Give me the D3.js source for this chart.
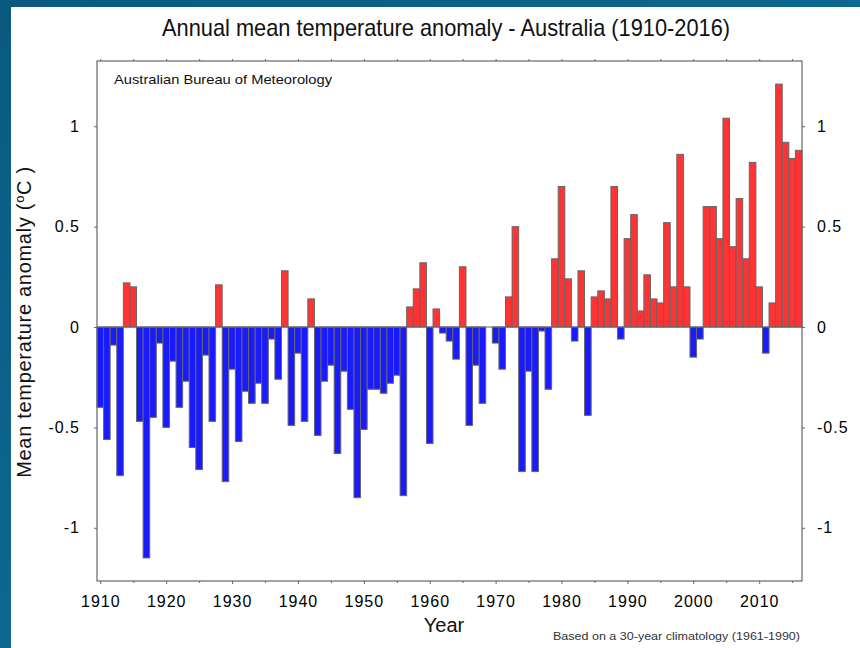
<!DOCTYPE html>
<html>
<head>
<meta charset="utf-8">
<script src="https://cdn.jsdelivr.net/npm/d3@7"></script>
<style>
  body { margin: 0; background: #0b5f86; }
  svg { display: block; font-family: "Liberation Sans", Arial, sans-serif; }
</style>
</head>
<body>
<svg width="860" height="648"></svg>
<script>
// anomaly values, one per year from 1910
const firstYear = 1910;
const anomalies = [
  -0.40, -0.56, -0.09, -0.74, 0.22, 0.20, -0.47, -1.15, -0.45, -0.08,  // 1910s
  -0.50, -0.17, -0.40, -0.27, -0.60, -0.71, -0.14, -0.47, 0.21, -0.77,  // 1920s
  -0.21, -0.57, -0.32, -0.38, -0.28, -0.38, -0.06, -0.26, 0.28, -0.49,  // 1930s
  -0.13, -0.47, 0.14, -0.54, -0.27, -0.19, -0.63, -0.22, -0.41, -0.85,  // 1940s
  -0.51, -0.31, -0.31, -0.33, -0.28, -0.24, -0.84, 0.10, 0.19, 0.32,    // 1950s
  -0.58, 0.09, -0.03, -0.07, -0.16, 0.30, -0.49, -0.19, -0.38, 0.00,    // 1960s
  -0.08, -0.21, 0.15, 0.50, -0.72, -0.22, -0.72, -0.02, -0.31, 0.34,    // 1970s
  0.70, 0.24, -0.07, 0.28, -0.44, 0.15, 0.18, 0.14, 0.70, -0.06,        // 1980s
  0.44, 0.56, 0.08, 0.26, 0.14, 0.12, 0.52, 0.20, 0.86, 0.20,           // 1990s
  -0.15, -0.06, 0.60, 0.60, 0.44, 1.04, 0.40, 0.64, 0.34, 0.82,         // 2000s
  0.20, -0.13, 0.12, 1.21, 0.92, 0.84, 0.88                             // 2010s
];
const years = d3.range(firstYear, firstYear + anomalies.length);
const xMajorTicks = d3.range(1910, 2011, 10);
const xMinorTicks = d3.range(1915, 2016, 10);
const yTicks = [-1, -0.5, 0, 0.5, 1];

const titleText = "Annual mean temperature anomaly - Australia (1910-2016)";
const sourceText = "Australian Bureau of Meteorology";
const footText = "Based on a 30-year climatology (1961-1990)";

window.onload = () => {
  const data = years.map((y, i) => ({ year: y, value: anomalies[i] }));

  const svg = d3.select("svg");

  // slide background + white panel
  const defs = svg.append("defs");
  const grad = defs.append("linearGradient").attr("id", "bg")
    .attr("x1", 0).attr("y1", 0).attr("x2", 1).attr("y2", 1);
  grad.append("stop").attr("offset", 0).attr("stop-color", "#0a5a80");
  grad.append("stop").attr("offset", 0.5).attr("stop-color", "#0e6790");
  grad.append("stop").attr("offset", 1).attr("stop-color", "#0a5a80");
  svg.append("rect").attr("width", 860).attr("height", 648).attr("fill", "url(#bg)");
  svg.append("rect").attr("x", 11).attr("y", 7).attr("width", 849).attr("height", 641).attr("fill", "#fff");

  const m = { left: 97, right: 802, top: 61, bottom: 581 };

  const x = d3.scaleLinear().domain([1909.5, 2016.5]).range([m.left, m.right]);
  const y = d3.scaleLinear().domain([-1.265, 1.325]).range([m.bottom, m.top]);
  const bw = x(1) - x(0);

  // bars
  svg.append("g").selectAll("rect").data(data).enter().append("rect")
    .attr("x", d => x(d.year - 0.5))
    .attr("width", bw)
    .attr("y", d => y(Math.max(0, d.value)))
    .attr("height", d => Math.abs(y(d.value) - y(0)))
    .attr("fill", d => d.value >= 0 ? "#ff3333" : "#1a1aff")
    .attr("stroke", "#666")
    .attr("stroke-width", 1);

  // zero line
  svg.append("line")
    .attr("x1", m.left).attr("x2", m.right).attr("y1", y(0)).attr("y2", y(0))
    .attr("stroke", "#666").attr("stroke-width", 1.2);

  // axes
  const styleAxis = g => {
    g.select(".domain").remove();
    g.selectAll(".tick line").attr("stroke", "#666");
    g.selectAll(".tick text").attr("fill", "#000").style("font-size", "16px")
      .style("letter-spacing", "1px")
      .style("font-family", "Liberation Sans, Arial, sans-serif");
  };
  const plain = d => String(d);

  svg.append("g").attr("transform", `translate(0,${m.bottom})`)
    .call(d3.axisBottom(x).tickValues(xMajorTicks).tickFormat(plain).tickSize(3).tickPadding(12))
    .call(styleAxis);
  svg.append("g").attr("transform", `translate(0,${m.bottom})`)
    .call(d3.axisBottom(x).tickValues(xMinorTicks).tickFormat("").tickSize(2))
    .call(styleAxis);
  svg.append("g").attr("transform", `translate(0,${m.top})`)
    .call(d3.axisTop(x).tickValues(xMajorTicks.concat(xMinorTicks)).tickFormat("").tickSize(2))
    .call(styleAxis);

  svg.append("g").attr("transform", `translate(${m.left},0)`)
    .call(d3.axisLeft(y).tickValues(yTicks).tickFormat(plain).tickSize(3).tickPadding(14))
    .call(styleAxis);
  svg.append("g").attr("transform", `translate(${m.right},0)`)
    .call(d3.axisRight(y).tickValues(yTicks).tickFormat(plain).tickSize(3).tickPadding(12))
    .call(styleAxis);

  // frame
  svg.append("rect")
    .attr("x", m.left).attr("y", m.top).attr("width", m.right - m.left).attr("height", m.bottom - m.top)
    .attr("fill", "none").attr("stroke", "#666").attr("stroke-width", 1.2);

  // texts
  svg.append("text")
    .attr("x", 446).attr("y", 36).attr("text-anchor", "middle")
    .attr("textLength", 568).attr("lengthAdjust", "spacingAndGlyphs")
    .style("font-size", "24px").attr("fill", "#111")
    .text(titleText);

  svg.append("text")
    .attr("x", 114).attr("y", 84)
    .attr("textLength", 218).attr("lengthAdjust", "spacingAndGlyphs")
    .style("font-size", "13px").attr("fill", "#111")
    .text(sourceText);

  svg.append("text")
    .attr("x", 444).attr("y", 632).attr("text-anchor", "middle")
    .style("font-size", "20px").attr("fill", "#111")
    .text("Year");

  const yl = svg.append("text")
    .attr("transform", `translate(31,322) rotate(-90)`)
    .attr("text-anchor", "middle")
    .style("font-size", "20px").style("letter-spacing", "0.7px").attr("fill", "#111");
  yl.append("tspan").text("Mean temperature anomaly (");
  yl.append("tspan").attr("dy", -7).style("font-size", "13px").text("o");
  yl.append("tspan").attr("dy", 7).text("C )");

  svg.append("text")
    .attr("x", 553).attr("y", 640)
    .attr("textLength", 247).attr("lengthAdjust", "spacingAndGlyphs")
    .style("font-size", "11px").attr("fill", "#333")
    .text(footText);
};
</script>
</body>
</html>
